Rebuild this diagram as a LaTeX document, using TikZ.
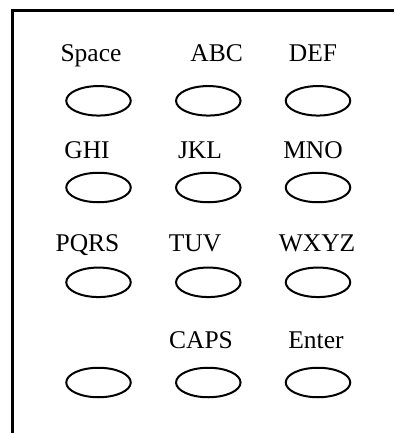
\documentclass[tikz,border=0pt]{standalone}
\usepackage{fontspec}
\setmainfont{Liberation Serif}
\usetikzlibrary{shapes.geometric}
\begin{document}
\begin{tikzpicture}[x=1pt,y=-1pt,
  key/.style={draw, ellipse, line width=2pt, minimum width=64.5pt, minimum height=29.5pt, inner sep=0pt},
  lbl/.style={anchor=base, inner sep=0pt, font=\fontsize{25.5}{30}\selectfont}]
\useasboundingbox (0,0) rectangle (394,433);
\coordinate (tl) at (11,10.5);
\coordinate (tr) at (394,10.5);
\coordinate (lt) at (12.5,9.3);
\coordinate (lb) at (12.5,433);
\draw[line width=2.5pt] (tl) -- (tr);
\draw[line width=3pt] (lt) -- (lb);
% labels
\node[lbl] (tSpace) at (91,61.7) {Space};
\node[lbl] (tABC) at (216.7,61.7) {ABC};
\node[lbl] (tDEF) at (313,61.7) {DEF};
\node[lbl] (tGHI) at (87,158.3) {GHI};
\node[lbl] (tJKL) at (200,158.3) {JKL};
\node[lbl] (tMNO) at (313,158.3) {MNO};
\node[lbl] (tPQRS) at (87.5,251.7) {PQRS};
\node[lbl] (tTUV) at (195,251.7) {TUV};
\node[lbl] (tWXYZ) at (317,251.7) {WXYZ};
\node[lbl] (tCAPS) at (201,348.3) {CAPS};
\node[lbl] (tEnter) at (316,348.3) {Enter};
% keys
\node[key] (k11) at (98.5,100.8) {};
\node[key] (k12) at (208.3,100.8) {};
\node[key] (k13) at (318,100.8) {};
\node[key] (k21) at (98.5,187.5) {};
\node[key] (k22) at (208.3,187.5) {};
\node[key] (k23) at (318,187.5) {};
\node[key] (k31) at (98.5,282.3) {};
\node[key] (k32) at (208.3,282.3) {};
\node[key] (k33) at (318,282.3) {};
\node[key] (k41) at (98.5,382.5) {};
\node[key] (k42) at (208.3,382.5) {};
\node[key] (k43) at (318,382.5) {};
\end{tikzpicture}
\end{document}
